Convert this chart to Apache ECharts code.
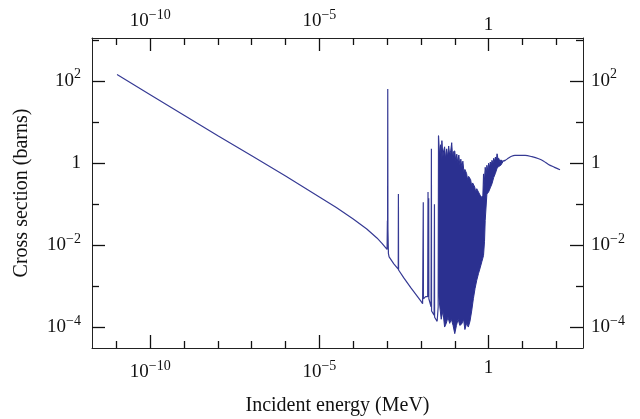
<!DOCTYPE html>
<html>
<head>
<meta charset="utf-8">
<script src="https://cdn.jsdelivr.net/npm/echarts@6/dist/echarts.min.js"></script>
<style>html,body{margin:0;padding:0;background:#fff}#c{width:640px;height:419px}</style>
</head>
<body>
<div id="c"></div>
<script>
// All values are log10 of the quantity (energy in MeV, cross section in barns)
const xRange = [-11.72, 2.79];
const yRange = [-4.5, 3.05];
const xMajorTicks = [-10, -5, 0];
const xMinorTicks = [-11, -9, -8, -7, -6, -4, -3, -2, -1, 1, 2];
const yMajorTicks = [-4, -2, 0, 2];
const yMinorTicks = [-3, -1, 1, 3];

// smooth 1/v part and isolated resonances
const lowE = [-10.98, -10.0, -9.0, -8.0, -7.0, -6.0, -5.0, -4.5, -4.0, -3.6, -3.3, -3.15, -3.05, -3.0, -2.99, -2.985, -2.98, -2.975, -2.96, -2.94, -2.8, -2.67, -2.665, -2.66, -2.5, -2.3, -2.1, -2.0, -1.95, -1.935, -1.93, -1.925, -1.86, -1.80, -1.79, -1.785, -1.77, -1.765, -1.70, -1.69, -1.685, -1.61, -1.60, -1.595, -1.52, -1.49, -1.48];
const lowS = [2.16, 1.67, 1.17, 0.67, 0.18, -0.31, -0.82, -1.08, -1.36, -1.6, -1.82, -1.95, -2.05, -2.1, -1.4, -1.5, 1.81, -1.6, -2.2, -2.28, -2.45, -2.58, -0.75, -2.6, -2.8, -3.03, -3.25, -3.36, -3.42, -3.4, -0.95, -3.3, -3.25, -3.25, -0.7, -3.2, -0.85, -3.3, -3.5, 0.35, -3.6, -3.7, -1.0, -3.75, -3.85, -3.5, 0.67];

// dense unresolved-resonance band: upper and lower envelopes
const bandUpE = [-1.48, -1.45, -1.42, -1.40, -1.38, -1.35, -1.33, -1.30, -1.27, -1.24, -1.21, -1.18, -1.15, -1.12, -1.09, -1.06, -1.04, -1.00, -0.97, -0.94, -0.91, -0.88, -0.85, -0.82, -0.79, -0.76, -0.73, -0.70, -0.65, -0.62, -0.59, -0.53, -0.50, -0.47, -0.41, -0.38, -0.35, -0.30, -0.25, -0.20, -0.17, -0.15, -0.13, -0.10, -0.07, -0.05, -0.02, 0.0, 0.03, 0.05, 0.08, 0.10, 0.13, 0.15, 0.18, 0.20, 0.23, 0.25, 0.28, 0.30, 0.33, 0.36, 0.42];
const bandUpS = [0.67, 0.2, 0.45, 0.1, 0.55, 0.15, 0.30, 0.40, 0.1, 0.35, 0.15, 0.42, 0.2, 0.30, 0.50, 0.1, 0.28, 0.30, 0.05, 0.22, 0.0, 0.20, -0.05, 0.10, -0.1, 0.05, -0.2, -0.15, -0.25, -0.4, -0.32, -0.40, -0.55, -0.48, -0.58, -0.7, -0.62, -0.70, -0.78, -0.83, -0.80, -0.26, -0.5, -0.1, -0.3, -0.05, -0.2, 0.0, -0.1, 0.03, -0.05, 0.07, 0.0, 0.12, 0.05, 0.15, 0.08, 0.23, 0.1, 0.12, 0.05, 0.08, 0.05];
const bandLowE = [-1.48, -1.44, -1.40, -1.35, -1.30, -1.25, -1.20, -1.15, -1.10, -1.05, -1.00, -0.95, -0.90, -0.85, -0.79, -0.74, -0.70, -0.65, -0.60, -0.55, -0.50, -0.45, -0.40, -0.35, -0.30, -0.25, -0.20, -0.15, -0.12, -0.10, -0.05, 0.0, 0.05, 0.10, 0.15, 0.20, 0.25, 0.30, 0.36, 0.42];
const bandLowS = [-3.2, -3.5, -3.8, -3.6, -3.99, -3.9, -3.75, -3.9, -3.8, -3.95, -4.15, -3.95, -3.8, -3.95, -3.91, -3.8, -4.05, -3.9, -3.99, -3.85, -3.6, -3.3, -3.05, -2.85, -2.69, -2.55, -2.4, -2.25, -1.9, -1.39, -0.75, -0.7, -0.6, -0.5, -0.35, -0.25, -0.12, -0.08, -0.05, 0.03];

// fast-neutron smooth tail
const highE = [0.42, 0.49, 0.58, 0.68, 0.78, 0.88, 1.08, 1.28, 1.48, 1.63, 1.77, 1.95, 2.11];
const highS = [0.05, 0.07, 0.12, 0.17, 0.19, 0.19, 0.19, 0.16, 0.11, 0.05, -0.03, -0.10, -0.16];

const xTitle = 'Incident energy (MeV)';
const yTitle = 'Cross section (barns)';

const FONT = 'Liberation Serif';
const LINE = '#363a94';
const MINUS = '\u2212';

function fmt(v) {
  if (v === 0) return '{b|1}';
  return '{b|10}{s|' + (v < 0 ? MINUS + Math.abs(v) : String(v)) + '}';
}
const rich = {
  b: { fontFamily: FONT, fontSize: 19, color: '#111' },
  s: { fontFamily: FONT, fontSize: 14, color: '#111', padding: [0, 0, 13, 0] }
};

function xAxisDef(pos, major, withLine, withName) {
  return {
    type: 'value', position: pos, min: xRange[0], max: xRange[1],
    gridIndex: 0,
    axisLine: { show: withLine, onZero: false, lineStyle: { color: '#222', width: 1 } },
    axisTick: { show: true, inside: true, length: major ? 13 : 7, customValues: major ? xMajorTicks : xMinorTicks, lineStyle: { color: '#111', width: 1.3 } },
    axisLabel: { show: major, customValues: xMajorTicks, formatter: fmt, rich: rich, margin: pos === 'bottom' ? 11 : 3 },
    splitLine: { show: false },
    name: withName ? xTitle : '', nameLocation: 'middle', nameGap: 48,
    nameTextStyle: { fontFamily: FONT, fontSize: 20, color: '#111' }
  };
}
function yAxisDef(pos, major, withLine, withName) {
  return {
    type: 'value', position: pos, min: yRange[0], max: yRange[1],
    gridIndex: 0,
    axisLine: { show: withLine, onZero: false, lineStyle: { color: '#222', width: 1 } },
    axisTick: { show: true, inside: true, length: major ? 13 : 7, customValues: major ? yMajorTicks : yMinorTicks, lineStyle: { color: '#111', width: 1.3 } },
    axisLabel: { show: major, customValues: yMajorTicks, formatter: fmt, rich: rich, margin: pos === 'left' ? 11 : 8 },
    splitLine: { show: false },
    name: withName ? yTitle : '', nameLocation: 'middle', nameGap: 60,
    nameTextStyle: { fontFamily: FONT, fontSize: 20, color: '#111' }
  };
}

const lowData = lowE.map((e, i) => [e, lowS[i]]);
const highData = highE.map((e, i) => [e, highS[i]]);
const bandUp = bandUpE.map((e, i) => [e, bandUpS[i]]);
const bandLow = bandLowE.map((e, i) => [e, bandLowS[i]]);

const chart = echarts.init(document.getElementById('c'), null, { renderer: 'canvas' });
chart.setOption({
  animation: false,
  backgroundColor: '#fff',
  grid: { left: 92, right: 57, top: 38, bottom: 71, containLabel: false, outerBoundsMode: 'none' },
  xAxis: [
    xAxisDef('bottom', true, true, true),
    xAxisDef('bottom', false, false, false),
    xAxisDef('top', true, true, false),
    xAxisDef('top', false, false, false)
  ],
  yAxis: [
    yAxisDef('left', true, true, true),
    yAxisDef('left', false, false, false),
    yAxisDef('right', true, true, false),
    yAxisDef('right', false, false, false)
  ],
  series: [
    {
      type: 'custom', xAxisIndex: 0, yAxisIndex: 0,
      data: [[bandUpE[0], bandUpS[0]]],
      renderItem: function (params, api) {
        const pts = bandUp.concat(bandLow.slice().reverse()).map(p => api.coord(p));
        return { type: 'polygon', shape: { points: pts }, style: { fill: '#2b3090', stroke: '#2b3090', lineWidth: 1 } };
      },
      silent: true
    },
    { type: 'line', xAxisIndex: 0, yAxisIndex: 0, data: lowData, showSymbol: false, symbol: 'none',
      lineStyle: { color: LINE, width: 1.2 }, silent: true },
    { type: 'line', xAxisIndex: 0, yAxisIndex: 0, data: highData, showSymbol: false, symbol: 'none', smooth: 0.3,
      lineStyle: { color: LINE, width: 1.2 }, silent: true }
  ]
});
</script>
</body>
</html>
